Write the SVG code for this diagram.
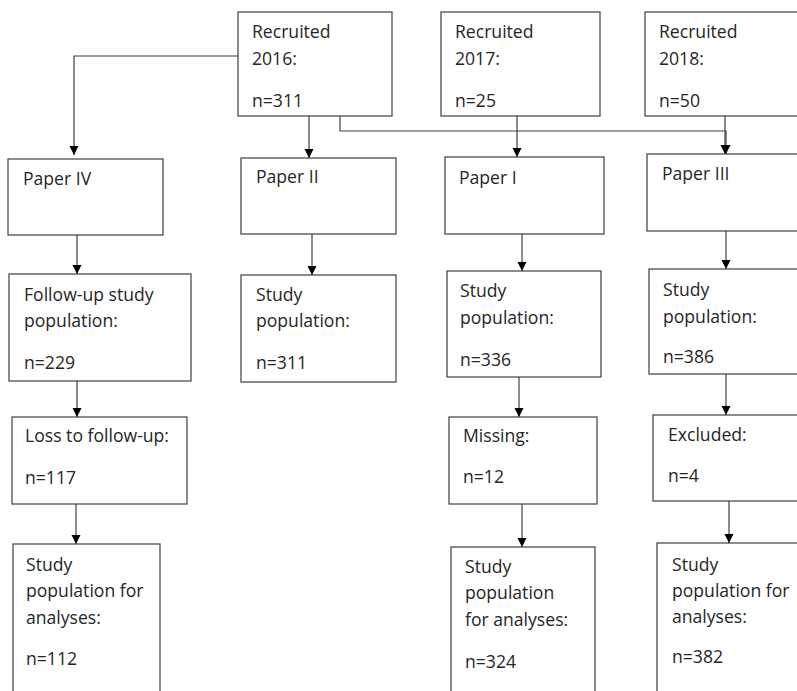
<svg xmlns="http://www.w3.org/2000/svg" width="797" height="691" viewBox="0 0 797 691">
<defs>
<style>
.box{fill:#ffffff;stroke:#404040;stroke-width:1.2}
.t{font-family:"Open Sans","Noto Sans","DejaVu Sans",sans-serif;font-size:17.6px;fill:#262626}
.c{fill:none;stroke:#404040;stroke-width:1.2}
</style>
<marker id="ah" viewBox="0 0 10 10" refX="10" refY="5" markerWidth="9" markerHeight="10" markerUnits="userSpaceOnUse" orient="auto">
<path d="M0,0 L10,5 L0,10 Z" fill="#000"/>
</marker>
</defs>
<rect width="797" height="691" fill="#ffffff"/>
<g id="connectors">
<path class="c" d="M238,56 H74 V155" marker-end="url(#ah)"/>
<path class="c" d="M309,116 V158" marker-end="url(#ah)"/>
<path class="c" d="M340,116 V131 H726 V154" marker-end="url(#ah)"/>
<path class="c" d="M517,116 V157" marker-end="url(#ah)"/>
<path class="c" d="M725,116 V154" marker-end="url(#ah)"/>
<path class="c" d="M77,235 V274" marker-end="url(#ah)"/>
<path class="c" d="M312,234 V275" marker-end="url(#ah)"/>
<path class="c" d="M522,234 V271" marker-end="url(#ah)"/>
<path class="c" d="M726,231 V269" marker-end="url(#ah)"/>
<path class="c" d="M77,381 V417" marker-end="url(#ah)"/>
<path class="c" d="M519,377 V417" marker-end="url(#ah)"/>
<path class="c" d="M726,374 V415" marker-end="url(#ah)"/>
<path class="c" d="M76,504 V544" marker-end="url(#ah)"/>
<path class="c" d="M522,504 V547" marker-end="url(#ah)"/>
<path class="c" d="M729,501 V543" marker-end="url(#ah)"/>
</g>
<g id="rec2016"><rect class="box" x="238" y="12" width="154" height="104"/>
<text class="t" x="252" y="38">Recruited</text><text class="t" x="252" y="65">2016:</text><text class="t" x="252" y="107">n=311</text></g>
<g id="rec2017"><rect class="box" x="441" y="12" width="159" height="104"/>
<text class="t" x="455" y="38">Recruited</text><text class="t" x="455" y="65">2017:</text><text class="t" x="455" y="107">n=25</text></g>
<g id="rec2018"><rect class="box" x="645" y="12" width="170" height="104"/>
<text class="t" x="659" y="38">Recruited</text><text class="t" x="659" y="65">2018:</text><text class="t" x="659" y="107">n=50</text></g>
<g id="paper4"><rect class="box" x="8" y="159" width="155" height="76"/>
<text class="t" x="23" y="185">Paper IV</text></g>
<g id="paper2"><rect class="box" x="241" y="158" width="155" height="76"/>
<text class="t" x="256" y="183">Paper II</text></g>
<g id="paper1"><rect class="box" x="445" y="157" width="159" height="77"/>
<text class="t" x="459" y="184">Paper I</text></g>
<g id="paper3"><rect class="box" x="647" y="154" width="170" height="77"/>
<text class="t" x="662" y="180">Paper III</text></g>
<g id="followup"><rect class="box" x="9" y="274" width="182" height="107"/>
<text class="t" x="24" y="301">Follow-up study</text><text class="t" x="24" y="327">population:</text><text class="t" x="24" y="369">n=229</text></g>
<g id="study2"><rect class="box" x="241" y="275" width="155" height="107"/>
<text class="t" x="256" y="301">Study</text><text class="t" x="256" y="327">population:</text><text class="t" x="256" y="369">n=311</text></g>
<g id="study1"><rect class="box" x="447" y="271" width="154" height="106"/>
<text class="t" x="460" y="297">Study</text><text class="t" x="460" y="324">population:</text><text class="t" x="460" y="366">n=336</text></g>
<g id="study3"><rect class="box" x="649" y="269" width="170" height="105"/>
<text class="t" x="663" y="296">Study</text><text class="t" x="663" y="323">population:</text><text class="t" x="663" y="363">n=386</text></g>
<g id="loss"><rect class="box" x="12" y="417" width="175" height="87"/>
<text class="t" x="25" y="442">Loss to follow-up:</text><text class="t" x="25" y="484">n=117</text></g>
<g id="missing"><rect class="box" x="449" y="417" width="148" height="87"/>
<text class="t" x="463" y="442">Missing:</text><text class="t" x="463" y="483">n=12</text></g>
<g id="excluded"><rect class="box" x="653" y="415" width="170" height="86"/>
<text class="t" x="668" y="441">Excluded:</text><text class="t" x="668" y="482">n=4</text></g>
<g id="final4"><rect class="box" x="13" y="544" width="147" height="160"/>
<text class="t" x="26" y="571">Study</text><text class="t" x="26" y="597">population for</text><text class="t" x="26" y="624">analyses:</text><text class="t" x="26" y="665">n=112</text></g>
<g id="final1"><rect class="box" x="451" y="547" width="144" height="160"/>
<text class="t" x="465" y="573">Study</text><text class="t" x="465" y="599">population</text><text class="t" x="465" y="626">for analyses:</text><text class="t" x="465" y="668">n=324</text></g>
<g id="final3"><rect class="box" x="657" y="543" width="170" height="160"/>
<text class="t" x="672" y="571">Study</text><text class="t" x="672" y="597">population for</text><text class="t" x="672" y="623">analyses:</text><text class="t" x="672" y="663">n=382</text></g>
</svg>
